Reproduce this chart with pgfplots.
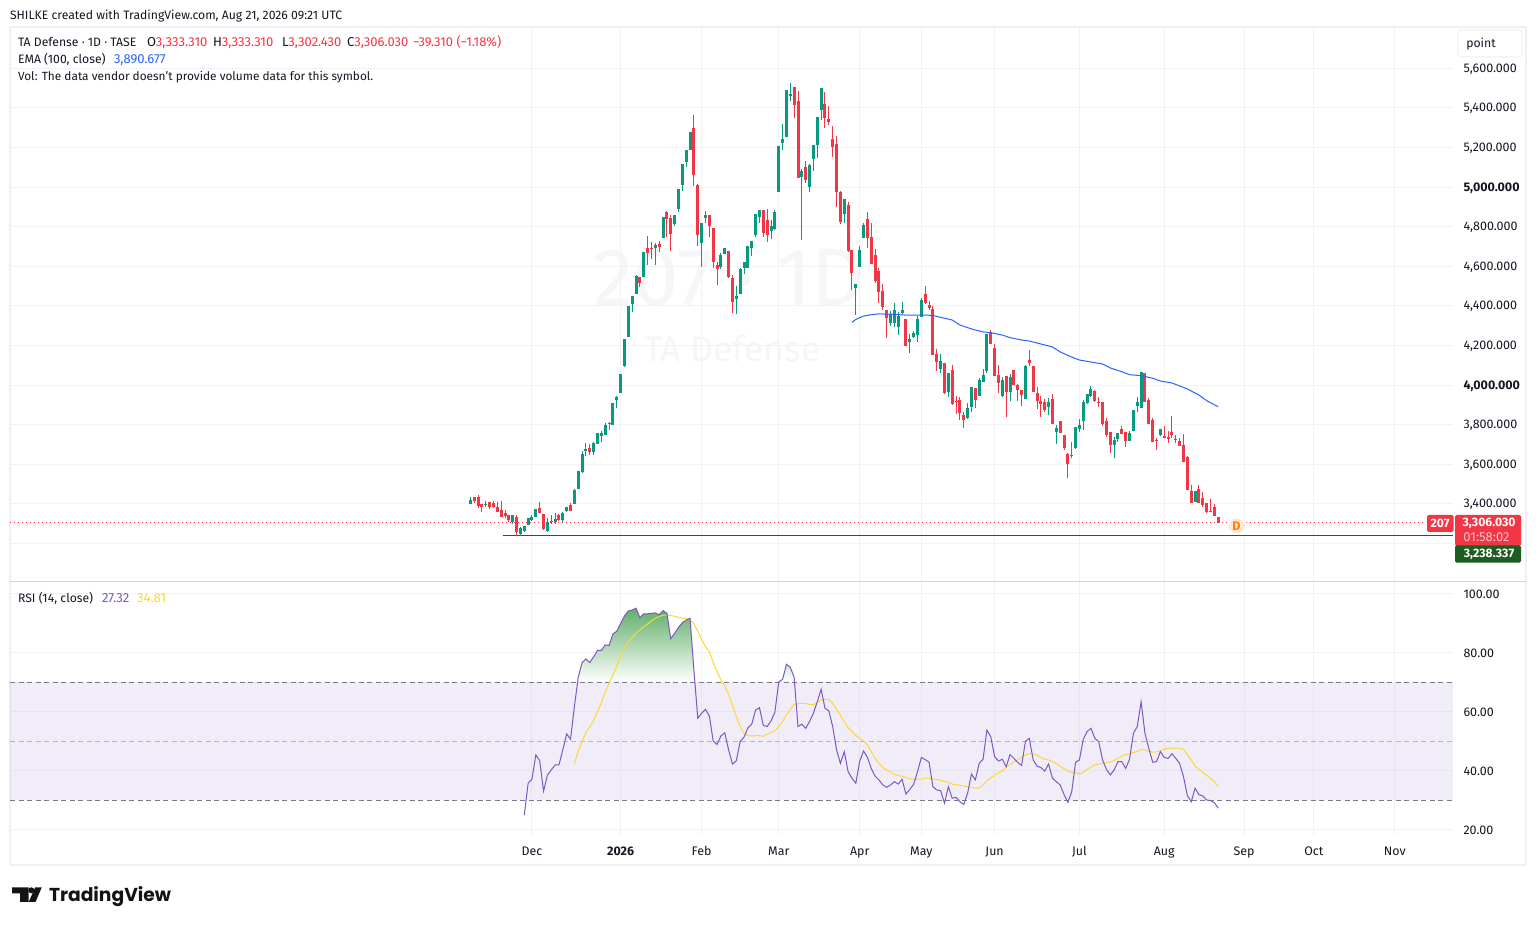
\documentclass[border=0pt]{standalone}
\usepackage{fontspec}
\setmainfont{Fira Sans}
\newfontfamily\logofont{Poppins}
\usepackage{pgfplots}
\usepackage{pgfplotstable}
\pgfplotsset{compat=1.18}
\definecolor{up}{HTML}{089981}
\definecolor{dn}{HTML}{F23645}
\definecolor{ema}{HTML}{2962FF}
\definecolor{rsi}{HTML}{7E57C2}
\definecolor{rsima}{HTML}{FDD835}
\definecolor{tvtext}{HTML}{131722}
\definecolor{gridc}{HTML}{F2F2F4}
\definecolor{frame}{HTML}{EFF0F3}
\definecolor{wm}{HTML}{F5F6F8}
\definecolor{dashc}{HTML}{787B86}
\definecolor{lvl}{HTML}{1B5E20}
\definecolor{obgreen}{HTML}{5FB069}

% i open high low close
\pgfplotstableread{
i o h l c
0 3400 3435 3400 3420
4 3395 3415 3385 3400
11 3309 3344 3299 3344
13 3248 3284 3238 3279
14 3264 3289 3259 3289
15 3294 3329 3294 3329
16 3319 3344 3314 3334
17 3334 3375 3334 3375
20 3264 3329 3259 3309
21 3309 3344 3299 3314
22 3309 3355 3299 3324
24 3319 3360 3309 3355
25 3365 3385 3360 3385
27 3400 3476 3400 3471
28 3476 3567 3476 3567
29 3562 3668 3557 3652
30 3668 3708 3642 3678
32 3663 3713 3647 3708
33 3703 3759 3703 3759
34 3743 3769 3713 3759
35 3748 3809 3748 3799
37 3799 3910 3799 3910
38 3925 3945 3885 3940
39 3961 4056 3961 4056
40 4097 4233 4092 4233
41 4243 4400 4243 4400
42 4410 4450 4370 4450
43 4460 4556 4460 4551
45 4546 4673 4546 4673
48 4693 4718 4607 4708
50 4743 4849 4743 4849
53 4814 4859 4804 4859
54 4890 4991 4875 4991
55 5011 5117 4981 5117
56 5127 5188 5102 5188
57 5188 5279 5188 5279
60 4718 4819 4597 4819
61 4844 4880 4819 4859
65 4597 4668 4587 4657
66 4663 4693 4663 4693
69 4435 4501 4360 4450
70 4460 4592 4460 4587
71 4592 4622 4562 4622
72 4592 4703 4592 4703
73 4693 4728 4652 4728
74 4758 4865 4748 4865
75 4849 4885 4819 4885
78 4779 4834 4738 4804
79 4789 4885 4784 4875
80 4976 5208 4976 5208
81 5223 5319 5188 5243
82 5253 5491 5253 5491
83 5460 5526 5435 5470
86 5051 5092 4733 5082
88 5001 5117 4976 5112
89 5142 5213 5082 5213
90 5213 5354 5147 5354
91 5390 5501 5339 5501
97 4864 4940 4819 4940
100 4491 4511 4354 4511
101 4597 4703 4597 4683
102 4743 4819 4743 4809
109 4314 4375 4299 4360
110 4314 4415 4294 4380
111 4294 4370 4253 4349
112 4365 4420 4360 4380
114 4218 4258 4163 4233
115 4243 4274 4238 4264
116 4253 4349 4218 4334
117 4344 4440 4344 4430
122 4082 4157 4062 4122
124 3966 4062 3940 4062
129 3834 3910 3829 3885
130 3890 3991 3865 3991
132 3945 4036 3945 4026
133 4016 4082 4016 4051
134 4072 4259 4062 4259
138 3945 4041 3940 4026
140 3966 4057 3920 4041
144 3930 4102 3930 4097
150 3890 3935 3849 3915
152 3764 3799 3703 3784
157 3683 3789 3678 3789
158 3779 3829 3764 3799
159 3819 3925 3774 3915
160 3910 3956 3905 3956
161 3945 3996 3940 3981
167 3698 3738 3632 3723
168 3728 3759 3713 3759
171 3718 3769 3718 3759
172 3769 3875 3769 3875
173 3895 3940 3865 3915
174 3885 4067 3885 4067
179 3748 3779 3743 3779
183 3723 3748 3708 3728
188 3410 3466 3410 3466
}\upcandles
\pgfplotstableread{
i o h l c
1 3435 3435 3405 3415
2 3435 3445 3380 3390
3 3400 3400 3360 3385
5 3410 3410 3375 3385
6 3405 3415 3380 3385
7 3385 3410 3360 3360
8 3370 3415 3334 3334
9 3355 3370 3329 3339
10 3344 3344 3309 3319
12 3334 3344 3238 3259
18 3380 3410 3355 3355
19 3349 3349 3269 3274
23 3344 3349 3314 3319
26 3395 3405 3365 3365
31 3683 3703 3647 3663
36 3809 3814 3774 3804
44 4546 4546 4496 4516
46 4693 4753 4607 4668
47 4693 4723 4637 4688
49 4713 4728 4673 4698
51 4875 4880 4748 4839
52 4844 4859 4678 4763
58 5299 5364 5006 5061
59 5011 5016 4703 4758
62 4859 4859 4748 4804
63 4794 4794 4592 4622
64 4607 4622 4506 4587
67 4678 4678 4541 4546
68 4541 4556 4365 4420
76 4885 4885 4748 4769
77 4834 4890 4723 4758
84 5506 5506 5349 5415
85 5435 5486 5046 5046
87 5102 5132 5021 5036
92 5420 5481 5299 5349
93 5344 5410 5314 5329
94 5243 5309 5152 5203
95 5218 5258 4900 4976
96 4976 4981 4814 4824
98 4910 4925 4673 4678
99 4683 4683 4481 4567
103 4839 4875 4693 4743
104 4748 4819 4612 4612
105 4657 4688 4516 4526
106 4577 4592 4415 4471
107 4476 4511 4380 4395
108 4380 4380 4238 4339
113 4334 4334 4198 4198
118 4460 4501 4410 4415
119 4405 4425 4380 4390
120 4385 4400 4152 4152
121 4157 4183 4072 4117
123 4112 4112 3956 3961
125 4077 4102 3900 3905
126 3920 3945 3855 3915
127 3925 3940 3824 3860
128 3849 3865 3784 3824
131 3986 3986 3885 3925
135 4269 4279 4208 4208
136 4188 4208 4046 4046
137 4051 4102 3961 4011
139 4046 4046 3839 3966
141 4077 4077 4001 4001
142 4001 4006 3920 3976
143 3976 3976 3895 3950
145 4127 4178 4097 4112
146 4097 4097 3966 3966
147 3961 3991 3880 3920
148 3920 3945 3839 3905
149 3915 3930 3865 3875
151 3930 3956 3804 3804
153 3819 3819 3759 3759
154 3748 3748 3673 3683
155 3652 3658 3531 3602
156 3647 3713 3632 3642
162 3971 3976 3915 3920
163 3915 3940 3890 3910
164 3915 3915 3794 3804
165 3819 3834 3738 3748
166 3764 3764 3658 3698
169 3779 3794 3754 3754
170 3764 3764 3688 3718
175 4062 4062 3915 3915
176 3925 3935 3804 3804
177 3824 3834 3713 3713
178 3723 3733 3673 3718
180 3743 3794 3733 3733
181 3738 3769 3708 3728
182 3764 3844 3733 3748
184 3718 3733 3693 3693
185 3698 3753 3612 3612
186 3637 3642 3471 3471
187 3466 3496 3405 3405
189 3476 3496 3405 3405
190 3430 3461 3385 3395
191 3405 3405 3355 3360
192 3365 3425 3360 3360
193 3385 3400 3339 3339
194 3333.31 3333.31 3302.43 3306.03
}\dncandles
\pgfplotstableread{
i v
99 4318
100 4332
102 4349
104 4356
106 4360
109 4358
113 4354
116 4354
118 4354
120 4352
125 4329
127 4304
130 4284
133 4269
135 4265
138 4253
140 4240
143 4228
145 4223
148 4208
151 4193
153 4168
156 4142
158 4127
161 4117
164 4107
166 4087
169 4068
171 4053
174 4048
177 4035
179 4021
182 4011
184 3996
186 3981
189 3950
191 3922
194 3890.677
}\emadata
\pgfplotstableread{
i r
14 25.0
15 35.8
16 37.2
17 45.4
18 43.4
19 33.1
20 38.5
21 40.3
22 42.0
23 42.0
24 47.1
25 52.5
26 50.7
27 61.8
28 71.7
29 76.7
30 77.9
31 76.7
32 78.7
33 80.8
34 80.8
35 82.7
36 82.5
37 86.4
38 87.3
39 90.0
40 92.5
41 94.2
42 94.5
43 95.1
44 91.9
45 93.2
46 93.2
47 93.4
48 93.5
49 92.9
50 94.3
51 93.4
52 84.8
53 86.6
54 88.6
55 90.2
56 91.1
57 91.7
58 74.2
59 57.8
60 59.5
61 60.8
62 58.6
63 50.1
64 48.9
65 51.8
66 52.9
67 47.1
68 42.3
69 43.4
70 49.9
71 51.4
72 54.5
73 55.8
74 60.6
75 61.4
76 55.4
77 55.0
78 56.9
79 59.8
80 70.1
81 71.0
82 76.1
83 75.1
84 71.7
85 55.0
86 55.8
87 54.4
88 56.7
89 59.5
90 63.4
91 67.6
92 61.2
93 60.3
94 55.0
95 47.1
96 42.5
97 46.5
98 39.7
99 37.5
100 35.8
101 43.2
102 46.7
103 44.6
104 40.8
105 38.2
106 36.9
107 35.2
108 34.4
109 35.2
110 36.3
111 35.5
112 37.1
113 32.1
114 33.7
115 35.4
116 39.7
117 44.5
118 43.8
119 42.9
120 34.6
121 33.5
122 33.3
123 29.0
124 34.6
125 30.7
126 31.0
127 29.5
128 28.6
129 32.4
130 38.9
131 36.9
132 42.5
133 43.9
134 53.8
135 51.6
136 44.8
137 43.3
138 43.9
139 41.4
140 45.5
141 44.2
142 42.8
143 41.8
144 50.0
145 51.0
146 43.7
147 41.6
148 41.1
149 39.9
150 42.3
151 37.5
152 36.3
153 35.2
154 32.0
155 29.3
156 32.9
157 42.9
158 43.7
159 50.7
160 53.3
161 54.4
162 51.0
163 49.9
164 43.7
165 40.5
166 38.6
167 40.3
168 43.1
169 43.1
170 40.8
171 43.9
172 52.7
173 55.0
174 63.4
175 52.7
176 47.6
177 42.9
178 43.1
179 46.5
180 44.5
181 44.2
182 45.8
183 44.2
184 42.5
185 38.0
186 31.6
187 29.5
188 34.1
189 31.9
190 31.5
191 30.1
192 29.9
193 29.2
194 27.32
}\rsidata
\pgfplotstableread{
i m
27 42.5
28 46.5
29 49.9
30 52.9
31 55.0
32 57.0
33 60.1
34 63.1
35 66.8
36 69.7
37 72.5
38 75.5
39 78.7
40 81.5
41 83.8
42 85.3
43 86.6
44 87.7
45 88.9
46 89.8
47 90.8
48 91.7
49 92.3
50 92.7
51 92.8
52 92.6
53 92.4
54 92.0
55 91.8
56 91.6
57 91.2
58 89.8
59 87.4
60 84.6
61 82.1
62 80.4
63 76.7
64 73.6
65 70.8
66 68.8
67 65.9
68 62.3
69 58.4
70 55.0
71 52.7
72 51.9
73 51.8
74 51.9
75 51.9
76 51.7
77 52.4
78 52.9
79 53.6
80 55.0
81 56.7
82 58.9
83 60.8
84 62.5
85 62.8
86 62.9
87 62.8
88 62.5
89 62.4
90 63.3
91 64.0
92 64.2
93 64.2
94 62.9
95 60.8
96 58.9
97 56.7
98 54.6
99 53.3
100 52.0
101 51.0
102 50.1
103 48.8
104 46.5
105 44.2
106 42.5
107 41.2
108 40.3
109 39.7
110 38.8
111 38.4
112 38.1
113 37.8
114 37.3
115 37.1
116 37.1
117 37.2
118 37.5
119 37.5
120 37.2
121 37.1
122 36.8
123 36.4
124 36.0
125 35.5
126 35.3
127 35.1
128 34.9
129 34.6
130 34.3
131 34.1
132 34.1
133 35.2
134 36.6
135 37.6
136 38.5
137 39.3
138 39.9
139 41.2
140 42.2
141 43.0
142 43.7
143 44.6
144 45.4
145 45.8
146 45.8
147 45.3
148 44.5
149 43.9
150 43.7
151 43.1
152 42.5
153 41.6
154 40.7
155 39.9
156 39.5
157 39.3
158 39.0
159 39.4
160 40.5
161 41.2
162 42.0
163 42.3
164 42.5
165 42.8
166 43.0
167 43.4
168 44.3
169 45.0
170 45.5
171 45.7
172 46.2
173 46.6
174 47.2
175 47.1
176 46.6
177 46.3
178 46.4
179 46.8
180 47.3
181 47.6
182 47.7
183 47.7
184 47.7
185 47.3
186 45.4
187 43.7
188 41.6
189 40.5
190 39.5
191 38.5
192 37.5
193 36.2
194 34.81
}\madata

\newcommand{\fs}[1]{\fontsize{#1}{#1}\selectfont}
\pgfplotsset{
  tvaxis/.style={
    scale only axis, width=1443pt,
    xmin=-119.4, xmax=254.9,
    xtick={16,39,60,80,101,117,136,158,180,200.7,218.8,239.8},
    grid=major, major grid style={color=gridc,line width=1pt},
    axis line style={draw=none},
    major tick length=0pt,
    yticklabel pos=right,
    yticklabel style={anchor=west,xshift=7pt,yshift=-0.8pt,text=tvtext,font=\fs{12.5}},
  },
  wick/.style={draw=none,mark=none,forget plot,
    error bars/.cd,y dir=plus,y explicit,error mark=none,
    error bar style={line width=1pt,color=#1}},
  body/.style={draw=none,mark=none,forget plot,
    error bars/.cd,y dir=plus,y explicit,error mark=none,
    error bar style={line width=3pt,color=#1}},
}

\begin{document}
\begin{tikzpicture}
\path[use as bounding box,fill=white] (0,0) rectangle (1536pt,925pt);

% outer frame and watermark
\begin{scope}[x=1pt,y=-1pt,shift={(0pt,925pt)}]
\draw[frame,line width=2pt] (10,27) rectangle (1526,865);
\node[anchor=center,text=wm,font=\fs{81.5}] at (728.5,278) {207 · 1D};
\node[anchor=center,text=wm,font=\fs{35.6}] at (732.5,348) {TA Defense};
\end{scope}

% price pane
\begin{axis}[tvaxis,
  at={(10pt,343pt)},anchor=south west,height=555pt,
  ymin=3006,ymax=5809,
  xticklabels={},
  ytick={3200,3400,3600,3800,4000,4200,4400,4600,4800,5000,5200,5400,5600},
  yticklabels={{},{3,400.000},{3,600.000},{3,800.000},{\textbf{4,000.000}},{4,200.000},{4,400.000},{4,600.000},{4,800.000},{\textbf{5,000.000}},{5,200.000},{5,400.000},{5,600.000}},
]
\addplot[dn,line width=1pt,dash pattern=on 1pt off 3pt,forget plot] coordinates {(-119.4,3306.03) (247.5,3306.03)};
\addplot[lvl,line width=1pt,forget plot] coordinates {(8.6,3238.337) (254.9,3238.337)};
\addplot[wick=up] table[x=i,y=l,y error plus expr=\thisrow{h}-\thisrow{l}] {\upcandles};
\addplot[wick=dn] table[x=i,y=l,y error plus expr=\thisrow{h}-\thisrow{l}] {\dncandles};
\addplot[body=up] table[x=i,y=o,y error plus expr=\thisrow{c}-\thisrow{o}] {\upcandles};
\addplot[body=dn] table[x=i,y=c,y error plus expr=\thisrow{o}-\thisrow{c}] {\dncandles};
\addplot[ema,line width=1pt,forget plot] table[x=i,y=v] {\emadata};
\end{axis}

% RSI pane
\begin{axis}[tvaxis,
  at={(10pt,90pt)},anchor=south west,height=253pt,
  ymin=18.24,ymax=104,
  xticklabels={Dec,\textbf{2026},Feb,Mar,Apr,May,Jun,Jul,Aug,Sep,Oct,Nov},
  xticklabel style={text=tvtext,font=\fs{12.4},yshift=-8pt},
  ytick={20,40,60,80,100},
  yticklabels={20.00,40.00,60.00,80.00,100.00},
]
\addplot[fill=rsi,fill opacity=0.1,draw=none,forget plot] coordinates {(-119.4,30) (254.9,30) (254.9,70) (-119.4,70)} -- cycle;
\addplot[draw=none,top color=obgreen,bottom color=white,forget plot] coordinates {(27.83,70) (28,71.7) (29,76.7) (30,77.9) (31,76.7) (32,78.7) (33,80.8) (34,80.8) (35,82.7) (36,82.5) (37,86.4) (38,87.3) (39,90.0) (40,92.5) (41,94.2) (42,94.5) (43,95.1) (44,91.9) (45,93.2) (46,93.2) (47,93.4) (48,93.5) (49,92.9) (50,94.3) (51,93.4) (52,84.8) (53,86.6) (54,88.6) (55,90.2) (56,91.1) (57,91.7) (58,74.2) (58.26,70)} -- cycle;
\addplot[draw=none,top color=obgreen!28!white,bottom color=white,forget plot] coordinates {(79.99,70) (80,70.1) (81,71.0) (82,76.1) (83,75.1) (84,71.7) (84.1,70)} -- cycle;
\addplot[dashc,line width=1pt,dash pattern=on 5pt off 3.5pt,forget plot] coordinates {(-119.4,70) (254.9,70)};
\addplot[dashc!55!white,line width=1pt,dash pattern=on 5pt off 3.5pt,forget plot] coordinates {(-119.4,50) (254.9,50)};
\addplot[dashc,line width=1pt,dash pattern=on 5pt off 3.5pt,forget plot] coordinates {(-119.4,30) (254.9,30)};
\addplot[rsima,line width=1pt,forget plot] table[x=i,y=m] {\madata};
\addplot[rsi,line width=1pt,forget plot] table[x=i,y=r] {\rsidata};
\end{axis}

% text, labels, logo
\begin{scope}[x=1pt,y=-1pt,shift={(0pt,925pt)},every node/.style={inner sep=0pt,outer sep=0pt,font=\fs{12.2},text=tvtext}]
\draw[color=frame!75!gray,line width=1pt] (10,582) -- (1526,582);
\draw[frame,line width=1pt,rounded corners=3pt] (1458,30) rectangle (1522,57);
\node[anchor=center] at (1481,44.5) {point};

\node[anchor=base west] at (10,20) {SHILKE created with TradingView.com, Aug 21, 2026 09:21 UTC};
\node[anchor=base west] at (18,47) {TA Defense · 1D · TASE};
\node[anchor=base west,font=\fs{13}] at (147,47) {O\textcolor{dn}{3,333.310}};
\node[anchor=base west,font=\fs{13}] at (213,47) {H\textcolor{dn}{3,333.310}};
\node[anchor=base west,font=\fs{13}] at (282,47) {L\textcolor{dn}{3,302.430}};
\node[anchor=base west,font=\fs{13}] at (347,47) {C\textcolor{dn}{3,306.030}};
\node[anchor=base west,text=dn,font=\fs{12.9}] at (413,47) {−39.310 (−1.18\%)};
\node[anchor=base west] at (18,64) {EMA (100, close)};
\node[anchor=base west,text=ema,font=\fs{13}] at (114,64) {3,890.677};
\node[anchor=base west,font=\fs{11.85}] at (18,81) {Vol: The data vendor doesn't provide volume data for this symbol.};
\node[anchor=base west] at (18,603) {RSI (14, close)};
\node[anchor=base west,text=rsi,font=\fs{13.2}] at (102,603) {27.32};
\node[anchor=base west,text=rsima,font=\fs{13.2}] at (137,603) {34.81};

% price labels
\fill[dn,rounded corners=1.5pt] (1427,515) rectangle (1453.5,532);
\node[anchor=center,text=white,font=\fs{12.2}\bfseries] at (1440,523.5) {207};
\fill[dn,rounded corners=1.5pt] (1455,515) rectangle (1521,546);
\fill[lvl,rounded corners=1.5pt] (1455,545.3) rectangle (1521,562.7);
\node[anchor=center,text=white,font=\fs{12.2}\bfseries] at (1489,523.5) {3,306.030};
\node[anchor=center,text=white!70!dn,font=\fs{13}] at (1486.5,537) {01:58:02};
\node[anchor=center,text=white,font=\fs{12.2}\bfseries] at (1489,554.5) {3,238.337};

% dividend marker
\fill[orange!18!white] (1236.5,526) circle (7.5);
\node[anchor=center,text=orange,font=\fs{12.5}\bfseries] at (1236.5,526) {D};

% logo
\fill[black!92] (12,887.3) -- (28.7,887.3) -- (28.7,902) -- (20,902) -- (20,893.3) -- (12,893.3) -- cycle;
\fill[black!92] (31.3,890.3) circle (3);
\fill[black!92] (35.2,887.3) -- (41.8,887.3) -- (35.5,902) -- (28.7,902) -- cycle;
\node[anchor=base west,text=black!92,font=\fontsize{18.7}{20}\logofont\bfseries] at (49,901.5) {TradingView};
\end{scope}
\end{tikzpicture}
\end{document}
